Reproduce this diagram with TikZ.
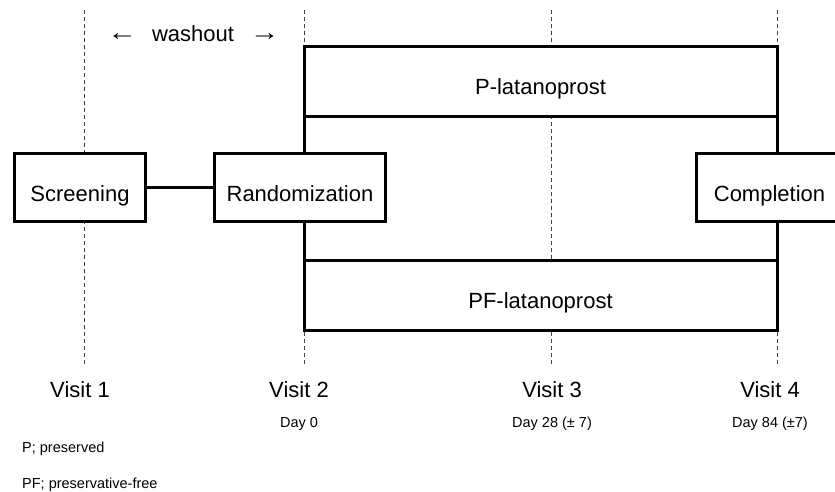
\documentclass[tikz,border=0pt]{standalone}
\usepackage{fontspec}
\setmainfont{Liberation Sans}
\begin{document}
\begin{tikzpicture}[x=1pt,y=-1pt,
  box/.style={draw=black, line width=3pt, fill=white, inner sep=0pt, outer sep=0pt,
    text height=27pt, text depth=0pt, font=\fontsize{22}{26}\selectfont},
  vline/.style={draw=black!75, line width=0.9pt, dash pattern=on 4pt off 3pt},
  conn/.style={draw=black, line width=3pt},
  visit/.style={anchor=base, inner sep=0pt, font=\fontsize{22}{26}\selectfont},
  day/.style={anchor=base, inner sep=0pt, font=\fontsize{14.5}{17}\selectfont},
  legend/.style={anchor=base west, inner sep=0pt, font=\fontsize{14.5}{17}\selectfont}]
\useasboundingbox (0,0) rectangle (835,491);
\fill[white] (0,0) rectangle (835,491);

% dashed visit lines
\coordinate (t1) at (84,10);  \coordinate (b1) at (84,366);
\coordinate (t2) at (304,10); \coordinate (b2) at (304,366);
\coordinate (t3) at (551.5,10); \coordinate (b3) at (551.5,366);
\coordinate (t4) at (777,10); \coordinate (b4) at (777,366);
\draw[vline] (t1) -- (b1);
\draw[vline] (t2) -- (b2);
\draw[vline] (t3) -- (b3);
\draw[vline] (t4) -- (b4);

% boxes
\node[box, minimum width=473pt, minimum height=70pt] (P) at (540.5,81) {P-latanoprost};
\node[box, minimum width=473pt, minimum height=70pt] (PF) at (540.5,295) {PF-latanoprost};
\node[box, minimum width=131pt, minimum height=68pt] (scr) at (80,187.5) {Screening};
\node[box, minimum width=171pt, minimum height=68pt] (rand) at (300,187.5) {Randomization};
\node[box, minimum width=146pt, minimum height=68pt] (comp) at (769.5,187.5) {Completion};

% connectors
\draw[conn] (scr.east) -- (rand.west);
\draw[conn] (P.south west) -- (P.south west |- rand.north);
\draw[conn] (P.south west |- rand.south) -- (PF.north west);
\draw[conn] (P.south east) -- (P.south east |- comp.north);
\draw[conn] (P.south east |- comp.south) -- (PF.north east);

% washout
\node[anchor=base, inner sep=0pt, font=\fontsize{22}{26}\selectfont] (wash) at (193.5,41)
  {\raisebox{0.5pt}{\scalebox{1.35}[1.1]{←}}\hspace{15pt}washout\hspace{16pt}\raisebox{0.5pt}{\scalebox{1.35}[1.1]{→}}};

% visit labels
\node[visit] (v1) at (80,397) {Visit 1};
\node[visit] (v2) at (299,397) {Visit 2};
\node[visit] (v3) at (552,397) {Visit 3};
\node[visit] (v4) at (770,397) {Visit 4};
\node[day] (d2) at (299,427) {Day 0};
\node[day] (d3) at (552,427) {Day 28 (± 7)};
\node[day] (d4) at (770,427) {Day 84 (±7)};

% legend
\node[legend] (l1) at (22,452) {P; preserved};
\node[legend] (l2) at (22,488) {PF; preservative-free};
\end{tikzpicture}
\end{document}
